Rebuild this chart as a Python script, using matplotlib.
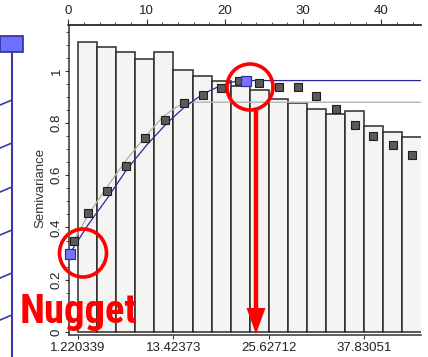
import matplotlib
matplotlib.use("Agg")
import matplotlib.pyplot as plt
from matplotlib import font_manager
from matplotlib.ticker import MultipleLocator
from matplotlib.patches import Ellipse, Rectangle, Polygon
from matplotlib.lines import Line2D
from matplotlib.transforms import IdentityTransform

plt.rcParams['font.family'] = ['Liberation Sans', 'DejaVu Sans']

W, H = 428, 357

# lag bins (start of each bin) and bar heights
bin_start = [1.220339, 3.661017, 6.101695, 8.542373, 10.98305, 13.42373,
             15.86441, 18.30508, 20.74576, 23.18644, 25.62712, 28.06780,
             30.50847, 32.94915, 35.38983, 37.83051, 40.27119, 42.71186]
bin_width = 2.440678
bar_height = [1.112, 1.093, 1.072, 1.047, 1.074, 1.005, 0.982, 0.963, 0.943,
              0.925, 0.894, 0.876, 0.853, 0.834, 0.848, 0.789, 0.766, 0.748]

# empirical semivariance points
pt_lag = [0.70, 2.46, 4.88, 7.35, 9.82, 12.3, 14.73, 17.2, 19.46, 21.8,
          24.4, 26.9, 29.3, 31.7, 34.2, 36.7, 39.0, 41.5, 43.9]
pt_gamma = [0.350, 0.457, 0.539, 0.637, 0.743, 0.812, 0.876, 0.908, 0.933, 0.963,
            0.955, 0.938, 0.938, 0.905, 0.853, 0.793, 0.752, 0.715, 0.678]

# fitted model (blue)
model_lag = [0.15, 2.5, 5.1, 7.4, 10.0, 12.6, 14.7, 17.2, 19.2, 21.0, 22.7, 45.1]
model_gamma = [0.30, 0.41, 0.518, 0.62, 0.716, 0.80, 0.858, 0.912, 0.940, 0.958, 0.963, 0.963]

# second model (grey)
alt_lag = [0.7, 2.5, 4.8, 7.4, 10.0, 12.1, 14.0, 15.5, 45.1]
alt_gamma = [0.35, 0.448, 0.55, 0.659, 0.755, 0.825, 0.866, 0.880, 0.880]

nugget = (0.15, 0.30)
range_pt = (22.7, 0.963)

bottom_ticks = [1.220339, 13.42373, 25.62712, 37.83051]
bottom_labels = ['1.220339', '13.42373', '25.62712', '37.83051']
top_ticks = [0, 10, 20, 30, 40]
y_ticks = [0, 0.2, 0.4, 0.6, 0.8, 1]
y_labels = ['0', '0.2', '0.4', '0.6', '0.8', '1']

fig = plt.figure(figsize=(W / 100, H / 100), dpi=100)
fig.patch.set_facecolor('white')
ax = fig.add_axes([68.5 / W, 22 / H, 352.5 / W, 310 / H])
ax.set_facecolor('white')

ax.bar(bin_start, bar_height, width=bin_width, align='edge', color='#f4f5f2',
       edgecolor='#2a2a2a', linewidth=1.1, zorder=1)
ax.plot(alt_lag, alt_gamma, color='#b4b4b4', lw=1.0, zorder=2)
ax.plot(model_lag, model_gamma, color='#2a2a9c', lw=0.9, zorder=3)
ax.plot(pt_lag, pt_gamma, 's', ms=5.5, mfc='#5a5a5a', mec='#1e1e1e', mew=0.8, zorder=4)
ax.plot([nugget[0], range_pt[0]], [nugget[1], range_pt[1]], 's', ms=7.5,
        mfc='#7474ff', mec='#2d2da0', mew=0.9, zorder=5, clip_on=False)

ax.set_xlim(0, 45.08)
ax.set_ylim(-0.012, 1.176)

ax.spines['right'].set_visible(False)
for s in ['left', 'bottom', 'top']:
    ax.spines[s].set_color('#333333')
    ax.spines[s].set_linewidth(1.1)

ax.set_xticks(bottom_ticks)
ax.set_xticklabels(bottom_labels, fontsize=9.5, color='#222222')
ax.tick_params(axis='x', direction='out', length=3, pad=2, color='#333333')
ax.set_yticks(y_ticks)
ax.set_yticklabels(y_labels, rotation=90, va='center', fontsize=9.5, color='#222222')
ax.yaxis.set_minor_locator(MultipleLocator(0.05))
ax.tick_params(axis='y', which='major', direction='out', length=3, pad=1, color='#333333')
ax.tick_params(axis='y', which='minor', direction='out', length=2, color='#333333')

ax2 = ax.twiny()
ax2.set_xlim(ax.get_xlim())
ax2.set_xticks(top_ticks)
ax2.xaxis.set_minor_locator(MultipleLocator(2))
ax2.tick_params(axis='x', which='major', direction='out', length=4, pad=2,
                labelsize=9.5, labelcolor='#222222', color='#333333')
ax2.tick_params(axis='x', which='minor', direction='out', length=2, color='#333333')
for s in ['right', 'left', 'bottom']:
    ax2.spines[s].set_visible(False)
ax2.spines['top'].set_color('#333333')
ax2.spines['top'].set_linewidth(1.1)

fig.text(40 / W, 1 - 188 / H, 'Semivariance', rotation=90, ha='center', va='center',
         fontsize=9.5, color='#333333')

# widget on the far left (pixels, y from top)
ident = IdentityTransform()
fig.add_artist(Line2D([12, 12], [0, H - 52], color='#3a3aa8', lw=1.5, transform=ident))
for yy in [100, 143, 187, 230, 273, 315]:
    fig.add_artist(Line2D([0, 12], [H - yy - 5, H - yy], color='#3a3aa8', lw=1.2,
                          transform=ident))
fig.add_artist(Rectangle((0, H - 52), 23, 16, facecolor='#6f6fff', edgecolor='#2d2d9b',
                         lw=1.2, transform=ident))

# red annotations
fig.add_artist(Ellipse((83, H - 253), 47, 48, fill=False, ec='red', lw=2.6, transform=ident))
fig.add_artist(Ellipse((250, H - 87), 46, 46, fill=False, ec='red', lw=2.6, transform=ident))
fig.add_artist(Line2D([256, 256], [H - 110, H - 312], color='red', lw=3.2, transform=ident))
fig.add_artist(Polygon([(246.5, H - 308), (265.5, H - 308), (256, H - 334)], closed=True,
                       facecolor='red', edgecolor='none', transform=ident))

# narrow bold face for the label if one is installed
installed = {f.name for f in font_manager.fontManager.ttflist}
narrow = [n for n in ['Liberation Sans Narrow', 'DejaVu Sans Condensed', 'Roboto Condensed',
                      'Open Sans Condensed'] if n in installed]
nug = fig.text(20 / W, 1 - 323 / H, 'Nugget', ha='left', va='baseline', fontsize=30.5,
               fontweight='bold', color='red', family=narrow + ['Liberation Sans'])
fig.canvas.draw()
wpx = nug.get_window_extent().width
if wpx > 0:
    nug.set_fontsize(30.5 * 118 / wpx)

fig.savefig('out.png', dpi=100)
